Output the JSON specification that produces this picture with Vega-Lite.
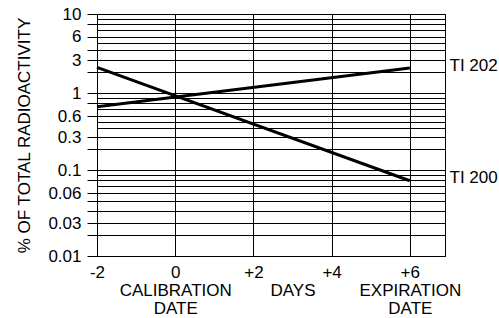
{
  "$schema": "https://vega.github.io/schema/vega-lite/v6.json",
  "width": 348,
  "height": 242,
  "autosize": {"type": "none"},
  "padding": {"left": 97, "top": 14, "right": 54, "bottom": 62},
  "background": "white",
  "config": {
    "font": "Liberation Sans",
    "view": {"stroke": "black", "strokeWidth": 1},
    "axis": {
      "labelFont": "Liberation Sans",
      "titleFont": "Liberation Sans",
      "labelColor": "black",
      "titleColor": "black",
      "labelFontSize": 17,
      "titleFontSize": 17,
      "titleFontWeight": "normal",
      "domainColor": "black",
      "tickColor": "black",
      "gridColor": "black",
      "gridOpacity": 1,
      "gridWidth": 1
    }
  },
  "data": {
    "values": [
      {"series": "TI 202", "day": -2, "value": 0.74},
      {"series": "TI 202", "day": 6, "value": 2.3},
      {"series": "TI 200", "day": -2, "value": 2.35},
      {"series": "TI 200", "day": 6, "value": 0.079}
    ]
  },
  "layer": [
    {
      "mark": {"type": "line", "color": "black", "strokeWidth": 3},
      "encoding": {
        "x": {
          "field": "day",
          "type": "quantitative",
          "scale": {"domain": [-2, 6.9], "nice": false, "zero": false},
          "axis": {
            "values": [-2, 0, 2, 3, 4, 6],
            "labelExpr": "datum.value == 0 ? ['0','CALIBRATION','DATE'] : datum.value == 3 ? ['','DAYS'] : datum.value == 6 ? ['+6','EXPIRATION','DATE'] : datum.value > 0 ? '+' + datum.value : '' + datum.value",
            "labelLineHeight": 18,
            "tickSize": 0,
            "labelPadding": 8,
            "grid": true,
            "gridOpacity": {"condition": {"test": "datum.value == 3", "value": 0}, "value": 1},
            "title": null,
            "labelAngle": 0,
            "labelFlush": false,
            "labelOverlap": false
          }
        },
        "y": {
          "field": "value",
          "type": "quantitative",
          "scale": {
            "type": "log",
            "domain": [0.01, 0.03, 0.06, 0.1, 0.3, 0.6, 1, 3, 6, 10],
            "range": [242, 209.3, 179.3, 156, 123.3, 102, 79.3, 46, 22.7, 0],
            "nice": false
          },
          "axis": {
            "values": [0.01, 0.02, 0.03, 0.04, 0.05, 0.06, 0.07, 0.08, 0.09, 0.1, 0.2, 0.3, 0.4, 0.5, 0.6, 0.7, 0.8, 0.9, 1, 2, 3, 4, 5, 6, 7, 8, 9, 10],
            "labelExpr": "indexof([0.01,0.03,0.06,0.1,0.3,0.6,1,3,6,10], datum.value) >= 0 ? '' + datum.value : ''",
            "tickSize": 10,
            "tickOpacity": {"condition": {"test": "indexof([9,7,5,0.9,0.7,0.5,0.4,0.09,0.07], datum.value) >= 0", "value": 0}, "value": 1},
            "labelPadding": 6,
            "grid": true,
            "labelOverlap": false,
            "title": "% OF TOTAL RADIOACTIVITY",
            "titlePadding": 14
          }
        },
        "detail": {"field": "series"}
      }
    },
    {
      "mark": {"type": "line", "strokeOpacity": 0},
      "encoding": {
        "x": {"field": "day", "type": "quantitative"},
        "y": {
          "field": "value",
          "type": "quantitative",
          "axis": {
            "orient": "right",
            "values": [2.3, 0.079],
            "labelExpr": "datum.value > 1 ? 'TI 202' : 'TI 200'",
            "grid": false,
            "ticks": false,
            "domain": false,
            "labelPadding": 4,
            "labelOffset": -3,
            "labelOverlap": false,
            "title": null
          }
        },
        "detail": {"field": "series"}
      }
    }
  ],
  "resolve": {"axis": {"y": "independent"}}
}
